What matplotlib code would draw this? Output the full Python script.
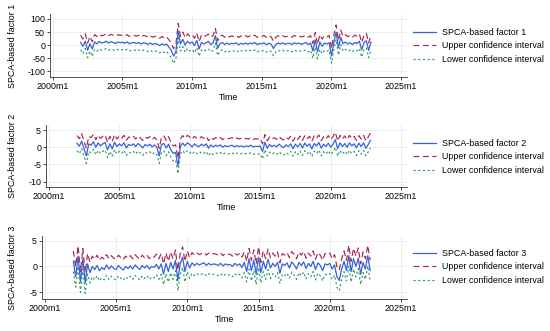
import numpy as np
import matplotlib
matplotlib.use("Agg")
import matplotlib.pyplot as plt

plt.rcParams['font.family'] = ['Liberation Sans', 'DejaVu Sans']
plt.rcParams['axes.unicode_minus'] = False

# bi-monthly observations, 2002m1 .. 2022m11
start_year = 2002
step_months = 2

factor1 = [
    10, -5, 15, -20, 5, -15,
    12, 5, 14, 8, 10, 15,
    8, 13, 10, 6, 12, 9,
    11, 7, 12, 5, 9, 10,
    6, 10, 4, 9, 7, 3,
    8, 2, 6, 4, -2, 5,
    0, 4, -8, -20, -42, -25,
    55, 5, 22, 0, 15, 6,
    12, -2, 18, -15, 10, 4,
    9, 14, 2, 8, 36, -12,
    6, 10, 2, 8, 3, 7,
    5, 9, 1, 7, 4, 8,
    3, 8, 5, 10, 2, 6,
    5, 9, 1, 7, 4, -13,
    2, 8, 4, 9, 3, 6,
    7, 2, 9, 5, 8, 3,
    6, 10, 2, 8, -22, 20,
    -25, 12, -5, 8, 4, 9,
    -41, 10, 49, -10, 30, 5,
    12, 4, 9, 2, 10, 6,
    15, -18, 10, 17, -20, 12,
]

factor2 = [
    1.2, 0.3, 1.8, -0.5, -2.5, 1.0,
    0.6, 1.6, 0.0, 1.3, 0.4, 1.0,
    1.4, -0.8, 1.0, -0.5, 1.5, 0.2,
    1.0, 0.4, 1.3, -0.2, 0.8, 0.5,
    1.0, 0.2, 1.1, 0.5, -0.2, 0.8,
    0.4, 0.9, 0.1, 0.7, 0.0, -2.5,
    0.8, 1.1, -0.2, 0.9, -0.8, -1.8,
    -1.5, -5.5, 0.2, 1.2, 0.4, 1.3,
    0.8, 0.1, 1.0, 0.4, 0.2, 0.9,
    0.4, 1.0, -0.3, 0.7, 0.1, 0.6,
    0.3, 0.7, 0.0, 0.5, 0.2, 0.4,
    0.6, 0.1, 0.5, 0.2, 0.4, 0.1,
    0.4, 0.2, 0.6, 0.1, 0.3, 0.2,
    0.4, -1.2, 1.5, -0.3, 0.8, 0.2,
    0.6, 0.1, 0.9, 0.3, -0.1, 0.7,
    0.2, 1.0, -0.4, 0.9, 0.1, 1.1,
    -0.2, 1.2, 0.3, 1.0, -0.5, 1.1,
    0.4, 1.4, -0.3, 0.9, 0.2, 1.2,
    0.0, 0.9, 2.2, -0.4, 1.3, 0.2,
    1.1, 0.0, 1.3, 0.4, 1.0, -0.2,
    1.2, 0.2, 1.3, -0.3, 0.8, 2.0,
]

factor3 = [
    1.0, -2.0, 2.0, -3.0, 1.5, -3.2,
    0.5, -1.2, 0.0, -0.6, 0.2, -0.8,
    -0.2, -0.6, 0.3, -0.5, 0.1, -0.4,
    -0.6, 0.2, -0.3, -0.7, 0.0, -0.4,
    0.1, -0.5, 0.3, -0.2, -0.6, 0.2,
    -0.3, 0.2, -0.5, 0.0, -0.2, 0.4,
    -0.5, 0.5, -1.5, 0.6, -1.0, 0.8,
    -0.5, 1.2, -2.7, 0.5, 1.8, -1.0,
    1.0, -0.3, 0.7, 0.2, 0.6, 0.3,
    0.5, 0.7, 0.2, 0.6, 0.3, 0.5,
    0.4, 0.2, 0.6, 0.1, 0.5, 0.3,
    0.4, 0.0, 0.6, 0.2, 0.5, -0.2,
    0.8, -1.0, 1.5, -0.8, 1.2, -1.5,
    1.8, -1.2, 1.0, -0.5, 1.4, -0.3,
    0.6, 0.0, 0.8, -1.3, 0.5, 0.2,
    0.7, -0.3, 0.9, 0.3, -0.5, 0.8,
    0.2, 0.9, -0.4, 0.6, 0.0, 1.0,
    -0.6, 0.7, 0.2, -0.8, 0.5, 0.3,
    0.6, -0.5, 0.3, -2.0, -2.7, -0.5,
    1.0, -0.8, 2.1, -1.0, 1.5, 0.0,
    1.6, -1.5, 0.8, -0.5, 2.1, -0.8,
]

# half-width of the confidence band
ci_halfwidth = [28, 2.2, 2.0]

factors = [factor1, factor2, factor3]
factor_labels = ["SPCA-based factor 1", "SPCA-based factor 2", "SPCA-based factor 3"]
ylabels = ["SPCA-based factor 1", "SPCA-based factor 2", "SPCA-based factor 3"]
legend_labels_ci = ["Upper confidence interval", "Lower confidence interval"]
yticks_list = [[-100, -50, 0, 50, 100], [-10, -5, 0, 5], [-5, 0, 5]]
ylims = [(-122, 119), (-11.6, 6.5), (-6.3, 5.9)]
xtick_years = [2000, 2005, 2010, 2015, 2020, 2025]
xtick_labels = ["2000m1", "2005m1", "2010m1", "2015m1", "2020m1", "2025m1"]

W, H = 550, 331
fig = plt.figure(figsize=(W / 100, H / 100), dpi=100)
fig.patch.set_facecolor('white')

# panel boxes in pixels: left, right, top, bottom
boxes = [(50, 407, 14, 77), (46, 407, 125, 187), (42, 407, 236, 299)]
legend_tops = [28, 139, 249]
time_y = [98, 208, 319]

c_blue = "#3461dc"
c_red = "#a8264f"
c_green = "#2e9a62"
fs = 6.4

for k in range(3):
    l, r, t, b = boxes[k]
    ax = fig.add_axes([l / W, 1 - b / H, (r - l) / W, (b - t) / H])
    f = np.array(factors[k], dtype=float)
    x = start_year + np.arange(len(f)) * step_months / 12.0
    hw = ci_halfwidth[k]
    h1, = ax.plot(x, f, color=c_blue, lw=0.9, label=factor_labels[k], zorder=3)
    h2, = ax.plot(x, f + hw, color=c_red, lw=0.85, linestyle=(0, (5, 3)),
                  label=legend_labels_ci[0], zorder=2)
    h3, = ax.plot(x, f - hw, color=c_green, lw=0.85, linestyle=(0, (1.8, 2.2)),
                  label=legend_labels_ci[1], zorder=2)
    ax.set_xlim(1999.8, 2025.42)
    ax.set_ylim(*ylims[k])
    ax.set_xticks(xtick_years)
    ax.set_xticklabels(xtick_labels)
    ax.set_yticks(yticks_list[k])
    ax.grid(True, color="#e6e6e6", lw=0.5)
    ax.set_axisbelow(True)
    for s in ['top', 'right']:
        ax.spines[s].set_visible(False)
    for s in ['left', 'bottom']:
        ax.spines[s].set_color("#333333")
        ax.spines[s].set_linewidth(0.6)
    ax.tick_params(axis='both', labelsize=fs, length=2.3, width=0.6,
                   color="#333333", pad=1.2)
    fig.text(13 / W, 1 - ((t + b) / 2) / H, ylabels[k], rotation=90,
             ha='center', va='center', fontsize=fs)
    fig.text(((l + r) / 2) / W, 1 - time_y[k] / H, "Time",
             ha='center', va='center', fontsize=fs)
    ax.legend(handles=[h1, h2, h3], loc='upper left',
              bbox_to_anchor=(413 / W, 1 - legend_tops[k] / H),
              bbox_transform=fig.transFigure, frameon=False, fontsize=fs,
              handlelength=2.6, handletextpad=0.65, labelspacing=0.5,
              borderpad=0, borderaxespad=0)

fig.savefig("out.png", dpi=100, facecolor='white')
